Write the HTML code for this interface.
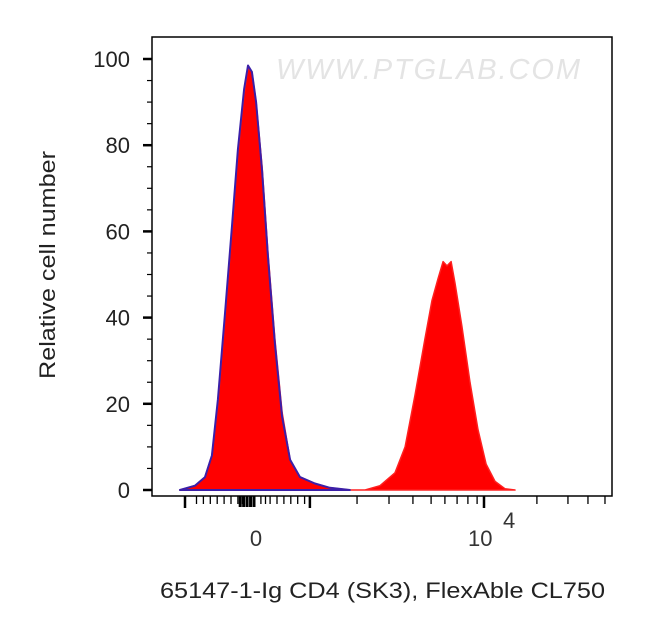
<!DOCTYPE html>
<html><head><meta charset="utf-8"><style>
body{margin:0;background:#fff;}
svg{display:block;font-family:"Liberation Sans",sans-serif;}
</style></head><body>
<svg id="chart" width="650" height="641" viewBox="0 0 650 641"></svg>
<script>
// display units: u=0 at value 0, u=1 at 10^4
const peakU = [-0.322,-0.257,-0.213,-0.183,-0.157,-0.126,-0.096,-0.070,-0.043,-0.026,-0.009,0.009,0.035,0.061,0.091,0.122,0.157,0.2,0.265,0.330,0.417,0.483,0.548,0.613,0.657,0.7,0.743,0.774,0.8,0.822,0.839,0.857,0.874,0.904,0.939,0.974,1.009,1.048,1.091,1.135];
const stainedCounts = [0,1,3,8,20,40,60,78,92,98,97,90,75,55,35,18,7,3,1.5,0.5,0,0,1,4,10,22,35,44,49,53,52,53,48,38,25,14,6,2,0.3,0];
const controlU = [-0.322,-0.257,-0.213,-0.183,-0.157,-0.126,-0.096,-0.070,-0.043,-0.026,-0.009,0.009,0.035,0.061,0.091,0.122,0.157,0.2,0.265,0.330,0.417];
const controlCounts = [0,1,3,8,21,41,61,79,93,98.5,97,90,74,54,34,17,7,3,1.5,0.5,0];
const yTicks = [0,20,40,60,80,100];
const yTickLabels = ["0","20","40","60","80","100"];
const xMajorU = [-0.3,0.243,1];
const xMinorU = [-0.25,-0.22,-0.19,-0.16,-0.13,-0.1,-0.07,-0.05,-0.03,0.03,0.05,0.07,0.1,0.13,0.16,0.19,0.22,0.448,0.587,0.691,0.770,0.83,0.883,0.930,0.970,1.230,1.365,1.452,1.526];
const xClusterU = [-0.06,-0.045,-0.03,-0.015,0];

const NS="http://www.w3.org/2000/svg";
const svg=document.getElementById('chart');
const X=u=>254+u*230;
const Y=v=>490-4.31*v;
function mk(tag,attrs,parent){const e=document.createElementNS(NS,tag);for(const k in attrs)e.setAttribute(k,attrs[k]);(parent||svg).appendChild(e);return e;}

const wm=mk('text',{x:276,y:79,'font-size':29,fill:'#e4e4e4','font-style':'italic','textLength':304});


wm.textContent='WWW.PTGLAB.COM';

function pathFor(us,vs){let d='M'+X(us[0])+','+Y(0);for(let i=0;i<us.length;i++)d+=' L'+X(us[i]).toFixed(1)+','+Y(vs[i]).toFixed(1);d+=' L'+X(us[us.length-1])+','+Y(0)+'Z';return d;}
const st=mk('path',{d:pathFor(peakU,stainedCounts),fill:'#ff0000',stroke:'#ff2020','stroke-width':1.5,'stroke-linejoin':'round'});


const ctl=mk('path',{d:pathFor(controlU,controlCounts),fill:'none',stroke:'#3b1fa8','stroke-width':2,'stroke-linejoin':'round'});



const frame=mk('rect',{x:152,y:37,width:460,height:459,fill:'none',stroke:'#000','stroke-width':1.5});



yTicks.forEach((v,i)=>{
  const t=mk('line',{x1:143,x2:152,y1:Y(v),y2:Y(v),stroke:'#000','stroke-width':2.5});
  
  
  const l=mk('text',{x:130,y:Y(v)+8,'font-size':22,'text-anchor':'end',fill:'#222'});
  
  
  l.textContent=yTickLabels[i];
  if(i<yTicks.length-1){for(let k=1;k<4;k++){const mv=v+k*5;const m=mk('line',{x1:147,x2:152,y1:Y(mv),y2:Y(mv),stroke:'#000','stroke-width':1.2});}}
});
xMajorU.forEach(u=>{const t=mk('line',{x1:X(u),x2:X(u),y1:496,y2:508,stroke:'#000','stroke-width':2.5});});
xMinorU.forEach(u=>{const t=mk('line',{x1:X(u),x2:X(u),y1:496,y2:504,stroke:'#000','stroke-width':1.3});});
xClusterU.forEach(u=>{const t=mk('line',{x1:X(u),x2:X(u),y1:496,y2:507,stroke:'#000','stroke-width':3});});

const x0=mk('text',{x:256,y:546,'font-size':22,'text-anchor':'middle',fill:'#333'});


x0.textContent='0';
const x4=mk('text',{x:468,y:546,'font-size':22,fill:'#333'});


x4.textContent='10';
const sup=mk('text',{x:503,y:528,'font-size':22,fill:'#333'});


sup.textContent='4';

const xt=mk('text',{x:160,y:598,'font-size':22,fill:'#222','textLength':445,'lengthAdjust':'spacingAndGlyphs'});


xt.textContent='65147-1-Ig CD4 (SK3), FlexAble CL750';
const yt=mk('text',{x:0,y:0,'font-size':22,'text-anchor':'middle',fill:'#222',transform:'translate(55,265) rotate(-90)','textLength':228,'lengthAdjust':'spacingAndGlyphs'});


yt.textContent='Relative cell number';
</script>
</body></html>
